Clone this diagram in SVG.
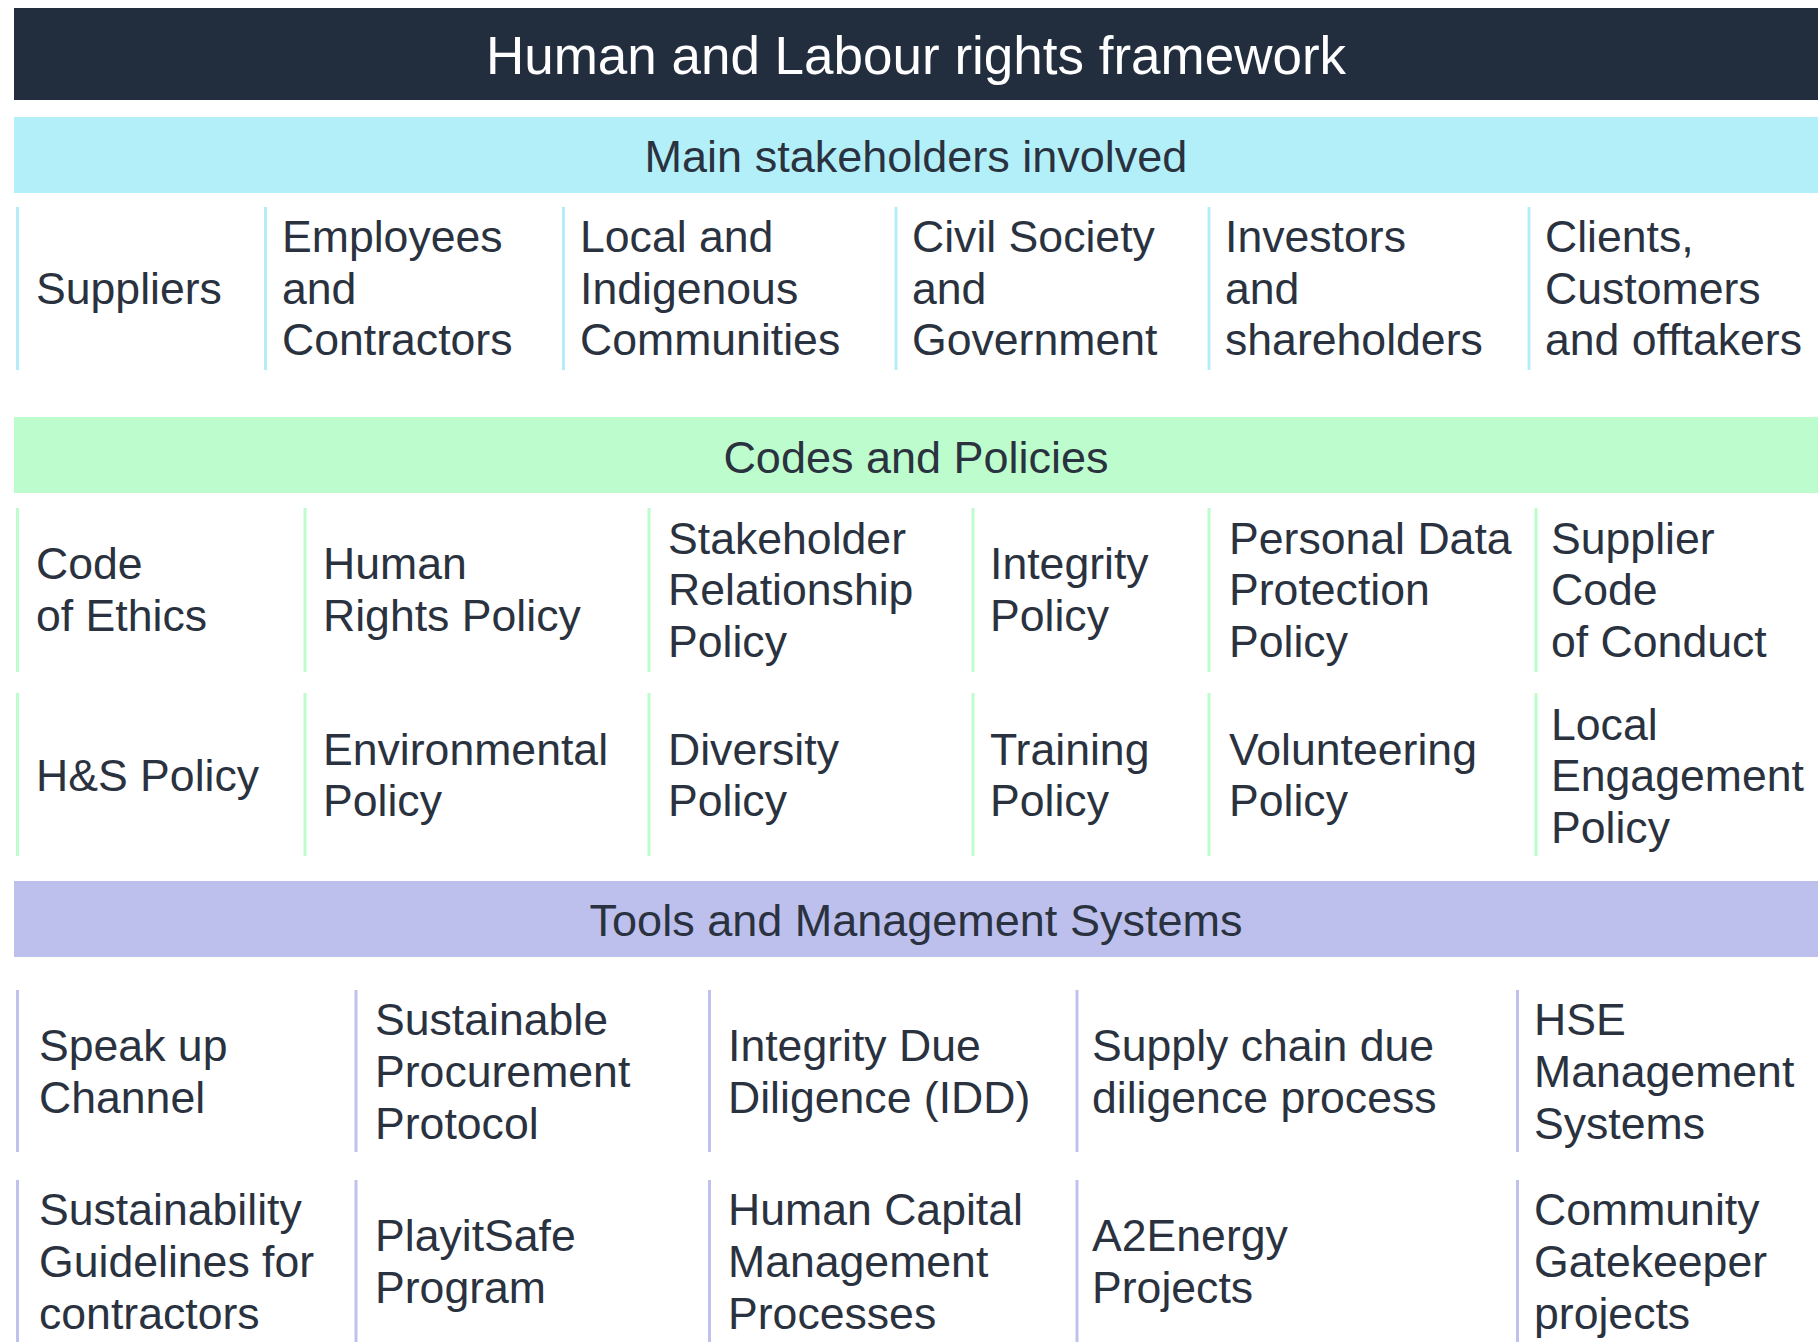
<svg xmlns="http://www.w3.org/2000/svg" width="1818" height="1342" viewBox="0 0 1818 1342">
<style>
text{font-family:"Liberation Sans",Arial,sans-serif;}
.title{font-size:53px;fill:#ffffff;text-anchor:middle;}
.sec{font-size:45px;fill:#2a3240;text-anchor:middle;}
.t{font-size:44.6px;fill:#2a3240;}
.sc{stroke:#b3eef8;stroke-width:3;}
.sg{stroke:#bdfccc;stroke-width:3;}
.sp{stroke:#c0c2ee;stroke-width:3;}
</style>
<rect width="1818" height="1342" fill="#ffffff"/>
<g id="title">
<rect x="14" y="8" width="1804" height="92" fill="#222d3e"/>
<text class="title" x="916" y="74">Human and Labour rights framework</text>
</g>
<g id="sec-stakeholders">
<rect x="14" y="117" width="1804" height="76" fill="#b3eff8"/>
<text class="sec" x="916" y="172">Main stakeholders involved</text>
</g>
<g id="st-suppliers"><line class="sc" x1="17.5" y1="207" x2="17.5" y2="370"/><text class="t" x="36" y="304">Suppliers</text></g>
<g id="st-employees"><line class="sc" x1="265.5" y1="207" x2="265.5" y2="370"/><text class="t" x="282" y="252">Employees</text><text class="t" x="282" y="304">and</text><text class="t" x="282" y="355">Contractors</text></g>
<g id="st-local"><line class="sc" x1="563.5" y1="207" x2="563.5" y2="370"/><text class="t" x="580" y="252">Local and</text><text class="t" x="580" y="304">Indigenous</text><text class="t" x="580" y="355">Communities</text></g>
<g id="st-civil"><line class="sc" x1="896" y1="207" x2="896" y2="370"/><text class="t" x="912" y="252">Civil Society</text><text class="t" x="912" y="304">and</text><text class="t" x="912" y="355">Government</text></g>
<g id="st-investors"><line class="sc" x1="1209" y1="207" x2="1209" y2="370"/><text class="t" x="1225" y="252">Investors</text><text class="t" x="1225" y="304">and</text><text class="t" x="1225" y="355">shareholders</text></g>
<g id="st-clients"><line class="sc" x1="1529" y1="207" x2="1529" y2="370"/><text class="t" x="1545" y="252">Clients,</text><text class="t" x="1545" y="304">Customers</text><text class="t" x="1545" y="355">and offtakers</text></g>

<g id="sec-codes">
<rect x="14" y="417" width="1804" height="76" fill="#bdfccc"/>
<text class="sec" x="916" y="473">Codes and Policies</text>
</g>
<g id="cp-ethics"><line class="sg" x1="17.5" y1="508" x2="17.5" y2="672"/><text class="t" x="36" y="579">Code</text><text class="t" x="36" y="631">of Ethics</text></g>
<g id="cp-hr"><line class="sg" x1="305" y1="508" x2="305" y2="672"/><text class="t" x="323" y="579">Human</text><text class="t" x="323" y="631">Rights Policy</text></g>
<g id="cp-stakeholder"><line class="sg" x1="649" y1="508" x2="649" y2="672"/><text class="t" x="668" y="554">Stakeholder</text><text class="t" x="668" y="605">Relationship</text><text class="t" x="668" y="657">Policy</text></g>
<g id="cp-integrity"><line class="sg" x1="973" y1="508" x2="973" y2="672"/><text class="t" x="990" y="579">Integrity</text><text class="t" x="990" y="631">Policy</text></g>
<g id="cp-data"><line class="sg" x1="1209" y1="508" x2="1209" y2="672"/><text class="t" x="1229" y="554">Personal Data</text><text class="t" x="1229" y="605">Protection</text><text class="t" x="1229" y="657">Policy</text></g>
<g id="cp-supplier"><line class="sg" x1="1536" y1="508" x2="1536" y2="672"/><text class="t" x="1551" y="554">Supplier</text><text class="t" x="1551" y="605">Code</text><text class="t" x="1551" y="657">of Conduct</text></g>
<g id="cp-hs"><line class="sg" x1="17.5" y1="693" x2="17.5" y2="856"/><text class="t" x="36" y="791">H&amp;S Policy</text></g>
<g id="cp-env"><line class="sg" x1="305" y1="693" x2="305" y2="856"/><text class="t" x="323" y="765">Environmental</text><text class="t" x="323" y="816">Policy</text></g>
<g id="cp-diversity"><line class="sg" x1="649" y1="693" x2="649" y2="856"/><text class="t" x="668" y="765">Diversity</text><text class="t" x="668" y="816">Policy</text></g>
<g id="cp-training"><line class="sg" x1="973" y1="693" x2="973" y2="856"/><text class="t" x="990" y="765">Training</text><text class="t" x="990" y="816">Policy</text></g>
<g id="cp-volunteering"><line class="sg" x1="1209" y1="693" x2="1209" y2="856"/><text class="t" x="1229" y="765">Volunteering</text><text class="t" x="1229" y="816">Policy</text></g>
<g id="cp-local"><line class="sg" x1="1536" y1="693" x2="1536" y2="856"/><text class="t" x="1551" y="740">Local</text><text class="t" x="1551" y="791">Engagement</text><text class="t" x="1551" y="843">Policy</text></g>

<g id="sec-tools">
<rect x="14" y="881" width="1804" height="76" fill="#bdc0ec"/>
<text class="sec" x="916" y="936">Tools and Management Systems</text>
</g>
<g id="tm-speakup"><line class="sp" x1="17.5" y1="990" x2="17.5" y2="1152"/><text class="t" x="39" y="1061">Speak up</text><text class="t" x="39" y="1113">Channel</text></g>
<g id="tm-procurement"><line class="sp" x1="356" y1="990" x2="356" y2="1152"/><text class="t" x="375" y="1035">Sustainable</text><text class="t" x="375" y="1087">Procurement</text><text class="t" x="375" y="1139">Protocol</text></g>
<g id="tm-idd"><line class="sp" x1="709.5" y1="990" x2="709.5" y2="1152"/><text class="t" x="728" y="1061">Integrity Due</text><text class="t" x="728" y="1113">Diligence (IDD)</text></g>
<g id="tm-supplychain"><line class="sp" x1="1077" y1="990" x2="1077" y2="1152"/><text class="t" x="1092" y="1061">Supply chain due</text><text class="t" x="1092" y="1113">diligence process</text></g>
<g id="tm-hse"><line class="sp" x1="1517.5" y1="990" x2="1517.5" y2="1152"/><text class="t" x="1534" y="1035">HSE</text><text class="t" x="1534" y="1087">Management</text><text class="t" x="1534" y="1139">Systems</text></g>
<g id="tm-guidelines"><line class="sp" x1="17.5" y1="1180" x2="17.5" y2="1342"/><text class="t" x="39" y="1225">Sustainability</text><text class="t" x="39" y="1277">Guidelines for</text><text class="t" x="39" y="1329">contractors</text></g>
<g id="tm-playitsafe"><line class="sp" x1="356" y1="1180" x2="356" y2="1342"/><text class="t" x="375" y="1251">PlayitSafe</text><text class="t" x="375" y="1303">Program</text></g>
<g id="tm-hcm"><line class="sp" x1="709.5" y1="1180" x2="709.5" y2="1342"/><text class="t" x="728" y="1225">Human Capital</text><text class="t" x="728" y="1277">Management</text><text class="t" x="728" y="1329">Processes</text></g>
<g id="tm-a2energy"><line class="sp" x1="1077" y1="1180" x2="1077" y2="1342"/><text class="t" x="1092" y="1251">A2Energy</text><text class="t" x="1092" y="1303">Projects</text></g>
<g id="tm-gatekeeper"><line class="sp" x1="1517.5" y1="1180" x2="1517.5" y2="1342"/><text class="t" x="1534" y="1225">Community</text><text class="t" x="1534" y="1277">Gatekeeper</text><text class="t" x="1534" y="1329">projects</text></g>
</svg>
